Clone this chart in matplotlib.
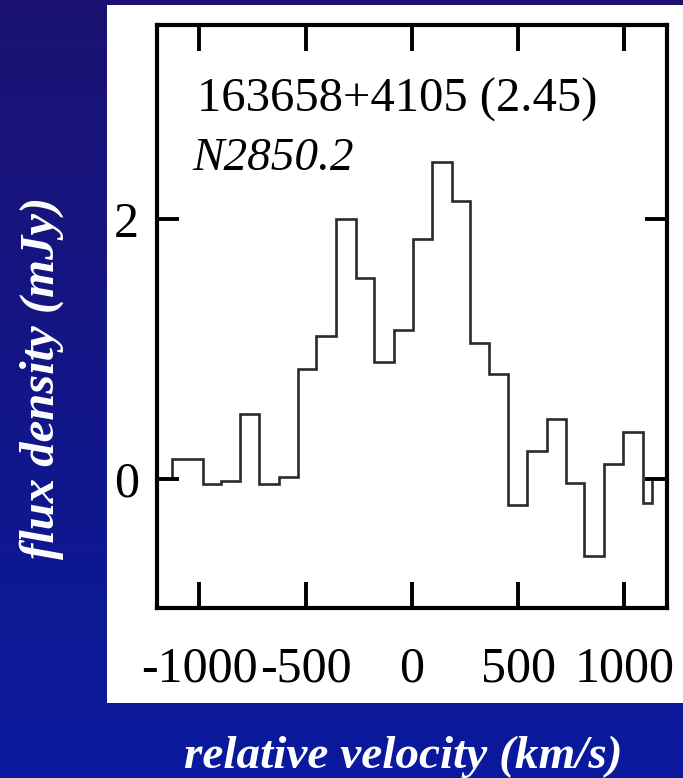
import numpy as np
import matplotlib
matplotlib.use('Agg')
from matplotlib import pyplot as plt
from matplotlib.patches import Rectangle
from matplotlib.colors import LinearSegmentedColormap

# spectrum
edges = [-1130, -985, -900, -810, -718, -627, -538, -450, -358, -265, -178, -85,
         4, 93, 187, 274, 365, 452, 541, 635, 725, 811, 906, 994, 1086, 1131]
flux = [0.155, -0.04, -0.02, 0.50, -0.04, 0.01, 0.85, 1.10, 2.00, 1.55, 0.90, 1.15,
        1.85, 2.44, 2.14, 1.05, 0.81, -0.20, 0.21, 0.46, -0.03, -0.60, 0.11, 0.36, -0.19]

xticks = [-1000, -500, 0, 500, 1000]
yticks = [0, 2]
name = '163658+4105 (2.45)'
line = 'N2850.2'

plt.rcParams['font.family'] = ['Liberation Serif', 'DejaVu Serif']
plt.rcParams['axes.unicode_minus'] = False

fig = plt.figure(figsize=(6.83, 7.78), dpi=100)

# blue gradient backdrop
bg = fig.add_axes([0, 0, 1, 1], zorder=-10)
cmap = LinearSegmentedColormap.from_list('bg', ['#1b1272', '#0a1a9e'])
bg.imshow(np.linspace(0, 1, 256).reshape(-1, 1), aspect='auto', cmap=cmap,
          extent=[0, 1, 0, 1])
bg.axis('off')

# white panel
fig.patches.append(Rectangle((0.1567, 0.0964), 0.8433, 0.8972, transform=fig.transFigure,
                             facecolor='white', edgecolor='none', zorder=-5))

ax = fig.add_axes([0.2299, 0.2181, 0.7463, 0.7497])
ax.patch.set_alpha(0)
ax.stairs(flux, edges, color='#2a2a2a', lw=1.9)

ax.set_xlim(-1200, 1200)
ax.set_ylim(-1.0, 3.5)
ax.set_xticks(xticks)
ax.set_yticks(yticks)
ax.tick_params(axis='x', direction='in', length=19, width=2.8, top=True, pad=27, labelsize=36)
ax.tick_params(axis='y', direction='in', length=16, width=2.8, right=True, pad=13, labelsize=36)
for s in ax.spines.values():
    s.set_linewidth(3)

ax.text(-1014, 2.83, name, fontsize=35, va='baseline', ha='left')
ax.text(-1033, 2.38, line, fontsize=34, style='italic', va='baseline', ha='left')

fig.text(0.0615, 0.514, 'flux density (mJy)', rotation=90, color='white', fontsize=35,
         fontweight='bold', style='italic', ha='center', va='center')
fig.text(0.591, 0.0129, 'relative velocity (km/s)', color='white', fontsize=34,
         fontweight='bold', style='italic', ha='center', va='baseline')

fig.savefig('out.png', dpi=100)
plt.close()
